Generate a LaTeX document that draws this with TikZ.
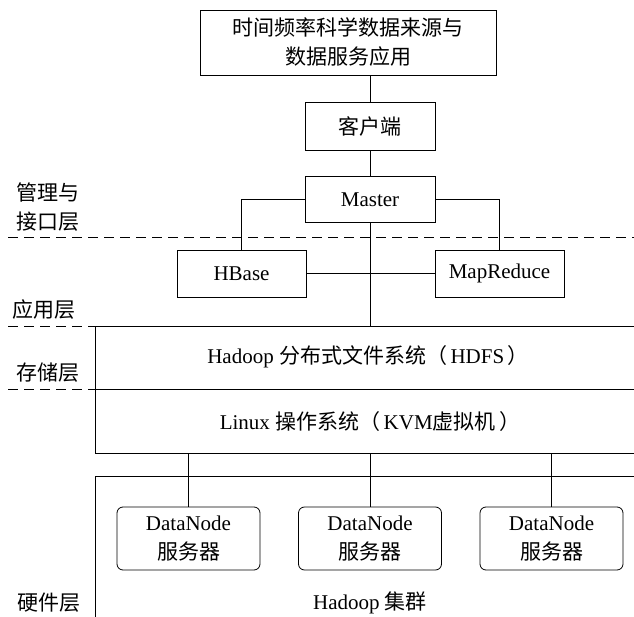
\documentclass[tikz,border=0pt]{standalone}
\usepackage{fontspec}
\setmainfont{Liberation Serif}
\newfontfamily\cjk{Noto Sans CJK SC}
\usetikzlibrary{positioning}

\tikzset{
  every node/.style={inner sep=0pt, font=\fontsize{21}{29}\selectfont, align=center},
  box/.style={draw, line width=0.8pt, inner sep=0pt},
  dnbox/.style={box, rounded corners=6pt, minimum width=143pt, minimum height=63pt},
  sep/.style={line width=0.8pt, dash pattern=on 10pt off 6pt},
  wire/.style={line width=0.8pt}
}

\begin{document}
\begin{tikzpicture}[x=1pt,y=-1pt]
\useasboundingbox (0,0) rectangle (634,617);
% upper boxes
\node[box, minimum width=296pt, minimum height=65pt] (src) at (348,42.5)
  {{\cjk 时间频率科学数据来源与}\\{\cjk 数据服务应用}};
\node[box, minimum width=130pt, minimum height=48pt] (client) at (370,126) {\cjk 客户端};
\node[box, minimum width=130pt, minimum height=46pt] (master) at (370,199.5) {Master};
\node[box, minimum width=129pt, minimum height=47pt] (hbase) at (241.5,273.5) {HBase};
\node[box, minimum width=129pt, minimum height=47pt] (mapred) at (499.5,273.5) {MapReduce};
% layer labels
\node (lmgr) at (48,207.5) {{\cjk 管理与}\\{\cjk 接口层}};
\node (lapp) at (44,310) {\cjk 应用层};
\node (lsto) at (48,373) {\cjk 存储层};
\node (lhw) at (49,603) {\cjk 硬件层};
% layer borders
\coordinate (sttop) at (95,326);
\coordinate (stmid) at (95,389);
\coordinate (stbot) at (95,453);
\coordinate (hwtop) at (95,476);
\draw[sep] (8,237) -- (634,237);
\draw[sep] (8,326) -- (sttop);
\draw[sep] (8,389) -- (stmid);
\draw[wire] (634,326) -- (sttop) -- (stbot) -- (634,453);
\draw[wire] (stmid) -- (634,389);
\draw[wire] (634,476) -- (hwtop) -- (95,617);
\node (hdfs) at (368,357) {Hadoop {\cjk 分布式文件系统（}\,HDFS\,{\cjk ）}};
\node (linux) at (370,422) {Linux {\cjk 操作系统（}\,KVM{\cjk 虚拟机}\,{\cjk ）}};
% data nodes
\node[dnbox] (dn1) at (188.5,538.5) {DataNode\\{\cjk 服务器}};
\node[dnbox] (dn2) at (370,538.5) {DataNode\\{\cjk 服务器}};
\node[dnbox] (dn3) at (551.5,538.5) {DataNode\\{\cjk 服务器}};
\node (cluster) at (370,603) {Hadoop {\cjk 集群}};
% connectors
\draw[wire] (src.south -| client.north) -- (client.north);
\draw[wire] (client.south) -- (master.north);
\draw[wire] (master.west) -| (hbase.north);
\draw[wire] (master.east) -| (mapred.north);
\draw[wire] (hbase.east) -- (mapred.west);
\draw[wire] (master.south) -- (master.south |- sttop);
\foreach \n in {dn1,dn2,dn3}
  \draw[wire] (\n.north) -- (\n.north |- stbot);
\end{tikzpicture}
\end{document}
